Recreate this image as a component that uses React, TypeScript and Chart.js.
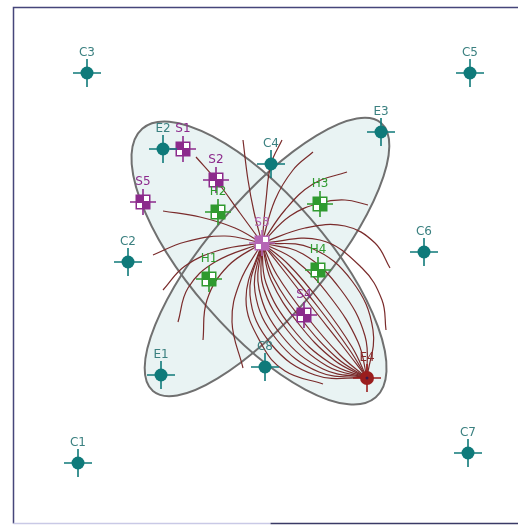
import React, { useEffect, useRef } from "react";
import { Chart, registerables } from "chart.js";

Chart.register(...registerables);

// ---- marker data (x to the right, y downwards) ----
const cNames = ["C1", "C2", "C3", "C4", "C5", "C6", "C7", "C8"];
const cX = [78, 128, 87, 271, 470, 424, 468, 265];
const cY = [463, 262, 73, 164, 73, 252, 453, 367];

const eNames = ["E1", "E2", "E3"];
const eX = [161, 163, 381];
const eY = [375, 149, 132];

const e4Names = ["E4"];
const e4X = [367];
const e4Y = [378];

const sNames = ["S1", "S2", "S4", "S5"];
const sX = [183, 216, 304, 143];
const sY = [149, 180, 315, 202];

const s3Names = ["S3"];
const s3X = [262];
const s3Y = [243];

const hNames = ["H1", "H2", "H3", "H4"];
const hX = [209, 218, 320, 318];
const hY = [279, 212, 204, 270];

// ---- ellipses ----
const ellipseCX = [259, 267];
const ellipseCY = [263, 257];
const ellipseA = [178, 176];
const ellipseB = [68, 58];
const ellipseAngle = [49, -49.6];

// ---- field lines (S3 -> E4 bundle) ----
const bundleLines: number[][][] = [
  [[262, 243], [288, 276], [315, 311], [341, 344], [367, 378]],
  [[262, 243], [277, 275], [307, 317], [340, 355], [367, 378]],
  [[262, 243], [273, 277], [302, 320], [337, 358], [367, 378]],
  [[262, 243], [271, 280], [298, 323], [334, 360], [367, 378]],
  [[262, 243], [266, 283], [292, 328], [330, 363], [367, 378]],
  [[262, 243], [263, 286], [288, 331], [327, 366], [367, 378]],
  [[262, 243], [259, 289], [282, 336], [323, 369], [367, 378]],
  [[262, 243], [255, 292], [277, 340], [319, 372], [367, 378]],
  [[262, 243], [250, 295], [271, 344], [315, 375], [367, 378]],
  [[262, 243], [246, 299], [262, 345], [285, 371], [323, 384]],
  [[262, 243], [286, 268], [318, 307], [349, 349], [367, 378]],
  [[262, 243], [289, 265], [322, 304], [352, 347], [367, 378]],
  [[262, 243], [295, 260], [331, 298], [358, 342], [367, 378]],
  [[262, 243], [303, 254], [341, 290], [365, 336], [367, 378]],
  [[262, 243], [311, 248], [352, 281], [373, 330], [367, 378]],
  [[262, 243], [320, 240], [362, 268], [382, 300], [386, 330]],
  [[262, 243], [305, 228], [345, 226], [375, 243], [390, 268]],
];

// ---- field lines fanning out of S3 ----
const fanLines: number[][][] = [
  [[262, 243], [290, 216], [320, 203], [345, 200], [368, 205]],
  [[262, 243], [285, 210], [313, 184], [347, 172]],
  [[262, 243], [275, 200], [293, 170], [313, 152]],
  [[262, 243], [266, 200], [271, 164], [282, 140]],
  [[262, 243], [254, 212], [248, 180], [243, 140]],
  [[262, 243], [240, 213], [216, 180], [196, 157]],
  [[262, 243], [235, 228], [200, 217], [163, 211]],
  [[262, 243], [225, 236], [185, 242], [153, 255]],
  [[262, 243], [220, 250], [185, 266], [163, 290]],
  [[262, 243], [215, 262], [188, 288], [178, 322]],
  [[262, 243], [228, 266], [207, 300], [203, 340]],
  [[262, 243], [240, 282], [232, 322], [243, 368]],
];

const TEAL = "#0f7a7a";
const TEAL_LABEL = "#3b8080";
const PURPLE = "#8c2a8c";
const PURPLE_LIGHT = "#b565b5";
const GREEN = "#2f9a2f";
const RED = "#9a1d1d";
const LINE = "#7a2b2b";

function makeCircle(color: string, r: number, arm: number, dot?: string) {
  const size = arm * 2 + 4;
  const c = document.createElement("canvas");
  c.width = size;
  c.height = size;
  const g = c.getContext("2d")!;
  const m = size / 2;
  g.strokeStyle = color;
  g.lineWidth = 1.6;
  g.beginPath();
  g.moveTo(m - arm, m);
  g.lineTo(m + arm, m);
  g.moveTo(m, m - arm);
  g.lineTo(m, m + arm);
  g.stroke();
  g.fillStyle = color;
  g.beginPath();
  g.arc(m, m, r, 0, Math.PI * 2);
  g.fill();
  if (dot) {
    g.fillStyle = dot;
    g.beginPath();
    g.arc(m, m, 1.5, 0, Math.PI * 2);
    g.fill();
  }
  return c;
}

function makeChecker(color: string, half: number, arm: number) {
  const size = arm * 2 + 4;
  const c = document.createElement("canvas");
  c.width = size;
  c.height = size;
  const g = c.getContext("2d")!;
  const m = size / 2;
  g.strokeStyle = color;
  g.lineWidth = 1.6;
  g.beginPath();
  g.moveTo(m - arm, m);
  g.lineTo(m + arm, m);
  g.moveTo(m, m - arm);
  g.lineTo(m, m + arm);
  g.stroke();
  g.fillStyle = color;
  g.fillRect(m - half, m - half, half * 2, half * 2);
  g.fillStyle = "#ffffff";
  const cell = half - 2.5;
  g.fillRect(m + 1, m - half + 1.5, cell, cell);
  g.fillRect(m - half + 1.5, m + 1, cell, cell);
  return c;
}

export default function App() {
  const ref = useRef<HTMLCanvasElement>(null);

  useEffect(() => {
    const canvas = ref.current!;
    const circleTeal = makeCircle(TEAL, 6.5, 14);
    const circleRed = makeCircle(RED, 7, 14, "#3a1a4a");
    const checkPurple = makeChecker(PURPLE, 7.5, 13);
    const checkPurpleLight = makeChecker(PURPLE_LIGHT, 7.5, 13);
    const checkGreen = makeChecker(GREEN, 7.5, 13);

    const groups = [
      { names: cNames, xs: cX, ys: cY, img: circleTeal, color: TEAL_LABEL },
      { names: eNames, xs: eX, ys: eY, img: circleTeal, color: TEAL_LABEL },
      { names: e4Names, xs: e4X, ys: e4Y, img: circleRed, color: "#8a2a2a" },
      { names: sNames, xs: sX, ys: sY, img: checkPurple, color: PURPLE },
      { names: s3Names, xs: s3X, ys: s3Y, img: checkPurpleLight, color: PURPLE_LIGHT },
      { names: hNames, xs: hX, ys: hY, img: checkGreen, color: GREEN },
    ];

    const markerSets = groups.map((g) => ({
      type: "scatter" as const,
      data: g.xs.map((x, i) => ({ x, y: g.ys[i] })),
      pointStyle: g.img as any,
      pointRadius: 5,
      pointHoverRadius: 5,
      showLine: false,
      order: 0,
    }));

    const lineSets = [...bundleLines, ...fanLines].map((pts) => ({
      type: "scatter" as const,
      data: pts.map((p) => ({ x: p[0], y: p[1] })),
      showLine: true,
      borderColor: LINE,
      borderWidth: 1.2,
      tension: 0.4,
      pointRadius: 0,
      pointHoverRadius: 0,
      fill: false,
      order: 1,
    }));

    const ellipsePlugin = {
      id: "ellipses",
      beforeDatasetsDraw(chart: any) {
        const { ctx, scales } = chart;
        const xs = scales.x;
        const ys = scales.y;
        const kx = Math.abs(xs.getPixelForValue(1) - xs.getPixelForValue(0));
        const ky = Math.abs(ys.getPixelForValue(1) - ys.getPixelForValue(0));
        ctx.save();
        const path = (i: number) => {
          ctx.beginPath();
          ctx.ellipse(
            xs.getPixelForValue(ellipseCX[i]),
            ys.getPixelForValue(ellipseCY[i]),
            ellipseA[i] * kx,
            ellipseB[i] * ky,
            (ellipseAngle[i] * Math.PI) / 180,
            0,
            Math.PI * 2
          );
        };
        ctx.fillStyle = "#e9f3f3";
        for (let i = 0; i < ellipseCX.length; i++) {
          path(i);
          ctx.fill();
        }
        ctx.strokeStyle = "#707070";
        ctx.lineWidth = 2;
        for (let i = 0; i < ellipseCX.length; i++) {
          path(i);
          ctx.stroke();
        }
        ctx.restore();
      },
    };

    const labelPlugin = {
      id: "labels",
      afterDatasetsDraw(chart: any) {
        const { ctx } = chart;
        ctx.save();
        ctx.font = "12px 'DejaVu Sans'";
        ctx.textAlign = "center";
        ctx.textBaseline = "alphabetic";
        groups.forEach((g, gi) => {
          const meta = chart.getDatasetMeta(gi);
          ctx.fillStyle = g.color;
          meta.data.forEach((pt: any, i: number) => {
            ctx.fillText(g.names[i], pt.x, pt.y - 17);
          });
        });
        ctx.restore();
      },
    };

    const framePlugin = {
      id: "frame",
      beforeDraw(chart: any) {
        const { ctx, width, height } = chart;
        ctx.save();
        ctx.fillStyle = "#ffffff";
        ctx.fillRect(0, 0, width, height);
        ctx.restore();
      },
      afterDraw(chart: any) {
        const { ctx, chartArea } = chart;
        const { left, top, right, bottom } = chartArea;
        ctx.save();
        ctx.lineWidth = 1.5;
        ctx.strokeStyle = "#45457a";
        ctx.beginPath();
        ctx.moveTo(right, top + 0.5);
        ctx.lineTo(left + 0.5, top + 0.5);
        ctx.lineTo(left + 0.5, bottom - 0.5);
        ctx.stroke();
        const mid = left + (right - left) * 0.51;
        ctx.strokeStyle = "#c9c9e6";
        ctx.beginPath();
        ctx.moveTo(left + 0.5, bottom - 0.5);
        ctx.lineTo(mid, bottom - 0.5);
        ctx.stroke();
        ctx.strokeStyle = "#3a3a66";
        ctx.beginPath();
        ctx.moveTo(mid, bottom - 0.5);
        ctx.lineTo(right, bottom - 0.5);
        ctx.stroke();
        ctx.restore();
      },
    };

    const chart = new Chart(canvas, {
      type: "scatter",
      data: { datasets: [...markerSets, ...lineSets] as any },
      options: {
        responsive: false,
        animation: false,
        events: [],
        layout: { autoPadding: false, padding: { left: 13, top: 7, right: 0, bottom: 1 } },
        scales: {
          x: { type: "linear", min: 13, max: 518, display: false },
          y: { type: "linear", min: 7, max: 524, reverse: true, display: false },
        },
        plugins: {
          legend: { display: false },
          tooltip: { enabled: false },
        },
      },
      plugins: [framePlugin, ellipsePlugin, labelPlugin],
    });
    return () => chart.destroy();
  }, []);

  return (
    <div style={{ position: "fixed", left: 0, top: 0, width: 518, height: 525, background: "#fff" }}>
      <canvas ref={ref} width={518} height={525} />
    </div>
  );
}
